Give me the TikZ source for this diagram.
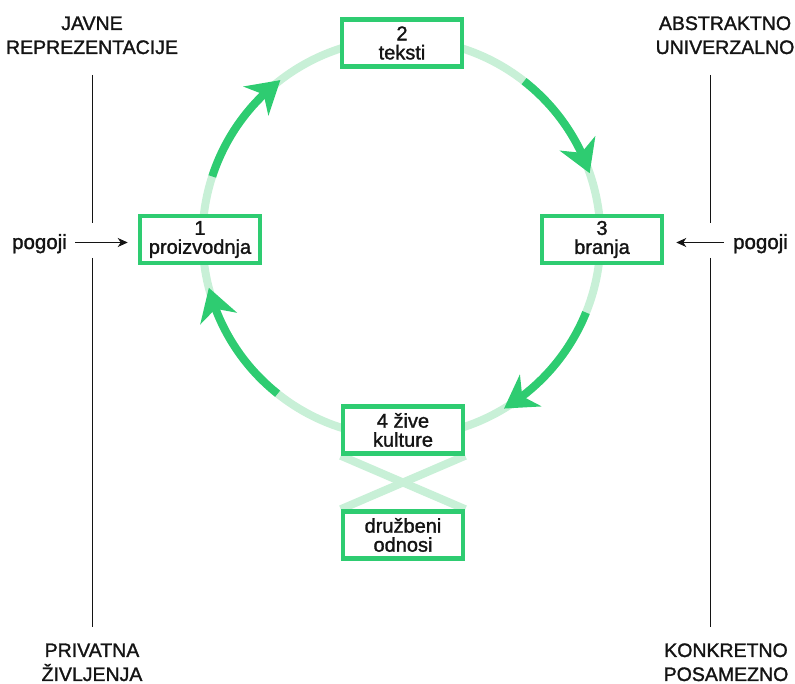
\documentclass[tikz,border=0pt]{standalone}
\usepackage{fontspec}
\setmainfont{Liberation Sans}
\newfontfamily\medfont{Liberation Sans}[FakeBold=1.4]
\usetikzlibrary{arrows.meta,bending,calc,backgrounds}
\definecolor{dgreen}{HTML}{2ECC71}
\definecolor{lgreen}{HTML}{C8F0D7}
\definecolor{ink}{HTML}{141414}
\begin{document}
\begin{tikzpicture}[x=1pt,y=1pt,
  box/.style={draw=dgreen, line width=4.5pt, fill=white, minimum width=120pt, minimum height=47pt, inner sep=0pt, align=center, text=ink, font=\medfont\fontsize{20}{19}\selectfont},
  lbl/.style={text=ink, align=center, inner sep=0pt, font=\medfont\fontsize{19.5}{24}\selectfont},
  ring/.style={draw=lgreen, line width=8pt},
  flow/.style={draw=dgreen, line width=8pt, -{Stealth[length=32pt,width=38pt,inset=10pt]}},
  axis/.style={draw=ink, line width=1pt},
  cond/.style={draw=ink, line width=1pt, -{Stealth[length=10pt,width=9pt,inset=3pt]}}
]
\useasboundingbox (0,0) rectangle (795,684);
\coordinate (c) at (401.5,446);

% boxes
\node[box] (p1) at (200,444.5) {1\\proizvodnja};
\node[box] (p2) at (402,641) {2\\teksti};
\node[box] (p3) at (602,444.5) {3\\branja};
\node[box] (p4) at (403,254) {4 žive\\kulture};
\node[box] (p5) at (403,149) {družbeni\\odnosi};

% ring and crossing bands behind the boxes
\begin{scope}[on background layer]
  \draw[ring] (c) circle[radius=199];
  \draw[ring] (p4.south west) -- (p5.north east);
  \draw[ring] (p4.south east) -- (p5.north west);
\end{scope}

% flow arrows
\draw[flow] ($(c)+(162:199)$) arc[start angle=162,end angle=127.5,radius=199];
\draw[flow] ($(c)+(52:199)$) arc[start angle=52,end angle=19,radius=199];
\draw[flow] ($(c)+(-22:199)$) arc[start angle=-22,end angle=-59,radius=199];
\draw[flow] ($(c)+(231.5:199)$) arc[start angle=231.5,end angle=194.5,radius=199];

% side axes
\coordinate (la) at (92,609);
\coordinate (lb) at (92,461);
\coordinate (lc) at (92,426);
\coordinate (ld) at (92,57);
\coordinate (ra) at (710,609);
\coordinate (rb) at (710,461);
\coordinate (rc) at (710,426);
\coordinate (rd) at (710,57);
\draw[axis] (la) -- (lb);
\draw[axis] (lc) -- (ld);
\draw[axis] (ra) -- (rb);
\draw[axis] (rc) -- (rd);

% corner labels (base = baseline of last line)
\node[lbl, anchor=base] (tl) at (92,630) {JAVNE\\REPREZENTACIJE};
\node[lbl, anchor=base] (tr) at (725,630) {ABSTRAKTNO\\UNIVERZALNO};
\node[lbl, anchor=base] (bl) at (92,3) {PRIVATNA\\ŽIVLJENJA};
\node[lbl, anchor=base] (br) at (726,3) {KONKRETNO\\POSAMEZNO};

% conditions
\node[lbl, anchor=base, font=\medfont\fontsize{20.5}{24}\selectfont] (pl) at (39.5,435) {pogoji};
\node[lbl, anchor=base, font=\medfont\fontsize{20.5}{24}\selectfont] (pr) at (760.5,435) {pogoji};
\draw[cond] ($(pl.base east)+(8,6.5)$) -- ($(pl.base east -| p1.west)+(-10,6.5)$);
\draw[cond] ($(pr.base west)+(-9,6.5)$) -- ($(pr.base west -| p3.east)+(12,6.5)$);
\end{tikzpicture}
\end{document}
